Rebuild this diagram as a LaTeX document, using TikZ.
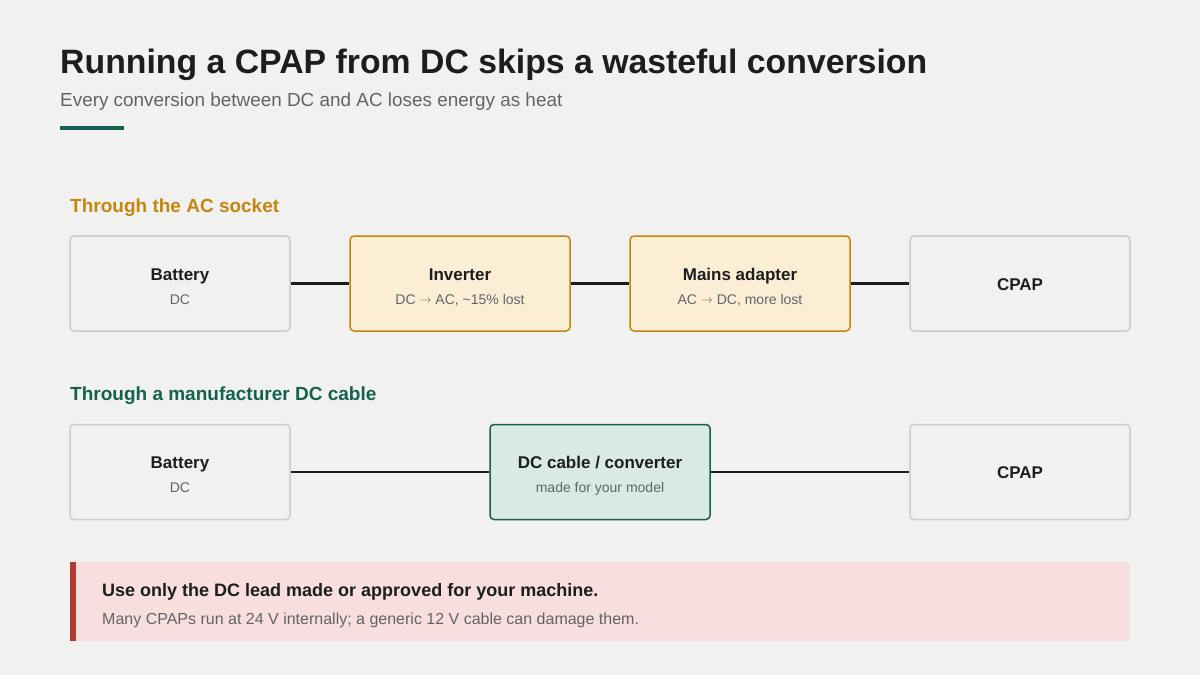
\documentclass[tikz,border=0pt]{standalone}
\usepackage{fontspec}
\setmainfont{Liberation Sans}
\usetikzlibrary{positioning}
\definecolor{bg}{HTML}{F1F2EF}
\definecolor{ink}{HTML}{1C1D1F}
\definecolor{subgray}{HTML}{5F646B}
\definecolor{teal}{HTML}{14614F}
\definecolor{amber}{HTML}{C4860E}
\definecolor{plainstroke}{HTML}{C9CDCA}
\definecolor{ambfill}{HTML}{FCEED5}
\definecolor{tealfill}{HTML}{D8EAE3}
\definecolor{warnfill}{HTML}{F8DFDE}
\definecolor{warnbar}{HTML}{B03936}
\tikzset{
  box/.style={draw=plainstroke, fill=bg, line width=1.5pt, rounded corners=4pt,
    minimum width=220pt, minimum height=95pt, inner sep=0pt},
  ambbox/.style={box, draw=amber, fill=ambfill},
  tealbox/.style={box, draw=teal, fill=tealfill},
  wire/.style={draw=ink, line width=2.6pt},
  btitle/.style={anchor=base, inner sep=0pt, text=ink, font=\fontsize{17}{20}\selectfont\bfseries, yshift=3.5pt},
  bsub/.style={anchor=base, inner sep=0pt, text=subgray, font=\fontsize{14}{17}\selectfont, yshift=-20.5pt},
  bsolo/.style={anchor=base, inner sep=0pt, text=ink, font=\fontsize{17}{20}\selectfont\bfseries, yshift=-6.5pt},
}
\newcommand{\arr}{\raisebox{0.8pt}{\fontsize{13}{15}\selectfont$\rightarrow$}}
\begin{document}
\begin{tikzpicture}[x=1pt,y=-1pt]
\fill[bg] (0,0) rectangle (1200,675);
\useasboundingbox (0,0) rectangle (1200,675);
% title
\node[anchor=base west, inner sep=0pt, text=ink] (title) at (60,73)
  {\fontsize{33.8}{38}\selectfont\bfseries Running a CPAP from DC skips a wasteful conversion};
\node[anchor=base west, inner sep=0pt, text=subgray] (subtitle) at (60,106)
  {\fontsize{18.9}{22}\selectfont Every conversion between DC and AC loses energy as heat};
\fill[teal] (60,125.5) rectangle (124,129.5);
% section 1
\node[anchor=base west, inner sep=0pt, text=amber] (sec1) at (70,212.5)
  {\fontsize{19}{22}\selectfont\bfseries Through the AC socket};
\node[box] (bat1) at (180,283.5) {};
\node[ambbox] (inv) at (460,283.5) {};
\node[ambbox] (mains) at (740,283.5) {};
\node[box] (cpap1) at (1020,283.5) {};
\node[btitle] (bat1t) at (bat1.center) {Battery};
\node[bsub] (bat1s) at (bat1.center) {DC};
\node[btitle] (invt) at (inv.center) {Inverter};
\node[bsub] (invs) at (inv.center) {DC \arr{} AC, \textasciitilde15\% lost};
\node[btitle] (mainst) at (mains.center) {Mains adapter};
\node[bsub] (mainss) at (mains.center) {AC \arr{} DC, more lost};
\node[bsolo] (cpap1t) at (cpap1.center) {CPAP};
\draw[wire] (bat1) -- (inv);
\draw[wire] (inv) -- (mains);
\draw[wire] (mains) -- (cpap1);
% section 2
\node[anchor=base west, inner sep=0pt, text=teal] (sec2) at (70,400.5)
  {\fontsize{19}{22}\selectfont\bfseries Through a manufacturer DC cable};
\node[box] (bat2) at (180,472) {};
\node[tealbox] (dcc) at (600,472) {};
\node[box] (cpap2) at (1020,472) {};
\node[btitle] (bat2t) at (bat2.center) {Battery};
\node[bsub] (bat2s) at (bat2.center) {DC};
\node[btitle] (dcct) at (dcc.center) {DC cable / converter};
\node[bsub] (dccs) at (dcc.center) {made for your model};
\node[bsolo] (cpap2t) at (cpap2.center) {CPAP};
\draw[wire] (bat2) -- (dcc);
\draw[wire] (dcc) -- (cpap2);
% warning callout
\fill[warnfill, rounded corners=3pt] (70,562) rectangle (1130,641);
\fill[warnbar] (70,562) rectangle (75.5,641);
\node[anchor=base west, inner sep=0pt, text=ink] (warn1) at (102,596.5)
  {\fontsize{18}{21}\selectfont\bfseries Use only the DC lead made or approved for your machine.};
\node[anchor=base west, inner sep=0pt, text=subgray] (warn2) at (102,624)
  {\fontsize{16}{19}\selectfont Many CPAPs run at 24 V internally; a generic 12 V cable can damage them.};
\end{tikzpicture}
\end{document}
